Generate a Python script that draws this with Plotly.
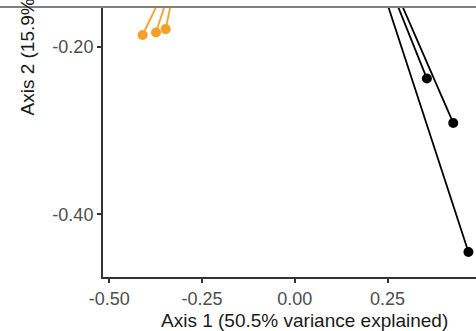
import plotly.graph_objects as go

# Ordination scores (PCoA axes 1 and 2) for the two groups shown
orange_x = [-0.410, -0.374, -0.348]
orange_y = [-0.186, -0.183, -0.179]
orange_centroid = [-0.307, -0.091]

black_x = [0.356, 0.427, 0.468]
black_y = [-0.238, -0.291, -0.445]
black_centroid = [0.136, 0.005]

x_ticks = [-0.50, -0.25, 0.00, 0.25]
x_tick_labels = ["-0.50", "-0.25", "0.00", "0.25"]
y_ticks = [-0.20, -0.40]
y_tick_labels = ["-0.20", "-0.40"]

x_title = "Axis 1 (50.5% variance explained)"
y_title = "Axis 2 (15.9% variance explained)"

W, H = 476, 331
L, T, R, B = 103, 7, 0, 54

FONT = "Liberation Sans, Arial, sans-serif"


def spider(xs, ys, c):
    sx, sy = [], []
    for x, y in zip(xs, ys):
        sx += [c[0], x, None]
        sy += [c[1], y, None]
    return sx, sy


fig = go.Figure()
for xs, ys, cen, col in [
    (orange_x, orange_y, orange_centroid, "#F6A126"),
    (black_x, black_y, black_centroid, "#000000"),
]:
    sx, sy = spider(xs, ys, cen)
    fig.add_trace(go.Scatter(x=sx, y=sy, mode="lines",
                             line=dict(color=col, width=1.8),
                             hoverinfo="skip"))
    fig.add_trace(go.Scatter(x=xs, y=ys, mode="markers",
                             marker=dict(color=col, size=10, line=dict(width=0))))

pw = W - L - R
ph = H - T - B

fig.update_layout(
    width=W, height=H,
    margin=dict(l=L, r=R, t=T, b=B, pad=0),
    paper_bgcolor="white", plot_bgcolor="white",
    showlegend=False,
    font=dict(family=FONT),
    xaxis=dict(range=[-0.5169, 0.4884], tickvals=x_ticks, ticktext=x_tick_labels,
               showgrid=False, zeroline=False, showline=True,
               linecolor="#333333", linewidth=2,
               ticks="outside", ticklen=4, tickwidth=1.5, tickcolor="#333333",
               tickfont=dict(size=18, color="#4D4D4D", family=FONT)),
    yaxis=dict(range=[-0.4748, -0.1526], tickvals=y_ticks, ticktext=y_tick_labels,
               showgrid=False, zeroline=False, showline=True,
               linecolor="#333333", linewidth=2,
               ticks="outside", ticklen=4, tickwidth=1.5, tickcolor="#333333",
               tickfont=dict(size=18, color="#4D4D4D", family=FONT)),
    annotations=[
        dict(text=x_title, xref="paper", yref="paper",
             x=(304.7 - L) / pw, y=-(320 - (T + ph)) / ph,
             xanchor="center", yanchor="middle", showarrow=False,
             font=dict(size=19, color="#1A1A1A", family=FONT)),
        dict(text=y_title, xref="paper", yref="paper", textangle=-90,
             x=(27 - L) / pw, y=((T + ph) - 118) / ph,
             xanchor="center", yanchor="bottom", showarrow=False,
             font=dict(size=19, color="#1A1A1A", family=FONT)),
    ],
    shapes=[
        dict(type="line", xref="paper", yref="paper",
             x0=-L / pw, x1=1, y0=1, y1=1,
             line=dict(color="#7F7F7F", width=2), layer="above"),
    ],
)

fig.write_html("out.html")
